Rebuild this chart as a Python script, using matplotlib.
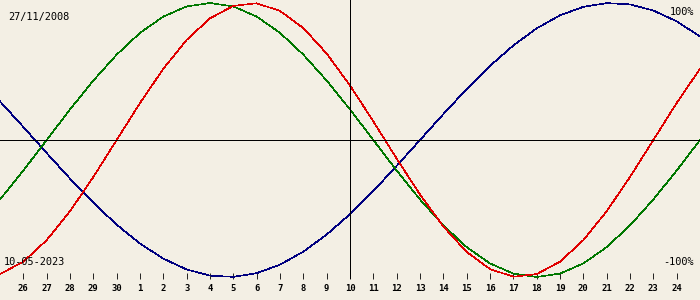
import matplotlib
matplotlib.use("Agg")
import matplotlib.pyplot as plt


# one point per day, 25 Apr .. 25 May 2023 (31 days), values in -1..1
physical = [-0.979, -0.888, -0.731, -0.520, -0.270, 0.0, 0.270, 0.520, 0.731, 0.888,
            0.979, 0.998, 0.942, 0.817, 0.631, 0.398, 0.136, -0.136, -0.398, -0.631,
            -0.817, -0.942, -0.998, -0.979, -0.888, -0.731, -0.520, -0.270, 0.0, 0.270,
            0.520]
emotional = [-0.434, -0.223, 0.0, 0.223, 0.434, 0.623, 0.782, 0.901, 0.975, 1.0,
             0.975, 0.901, 0.782, 0.623, 0.434, 0.223, 0.0, -0.223, -0.434, -0.623,
             -0.782, -0.901, -0.975, -1.0, -0.975, -0.901, -0.782, -0.623, -0.434, -0.223,
             0.0]
intellectual = [0.282, 0.095, -0.095, -0.282, -0.458, -0.618, -0.756, -0.866, -0.945, -0.990,
                -0.999, -0.972, -0.910, -0.815, -0.690, -0.541, -0.372, -0.189, 0.0, 0.189,
                0.372, 0.541, 0.690, 0.815, 0.910, 0.972, 0.999, 0.990, 0.945, 0.866,
                0.756]

day_labels = ["26", "27", "28", "29", "30", "1", "2", "3", "4", "5", "6", "7", "8", "9",
              "10", "11", "12", "13", "14", "15", "16", "17", "18", "19", "20", "21",
              "22", "23", "24"]
today_index = 15
birth_date = "27/11/2008"
today_date = "10-05-2023"

bg = "#f3efe4"

fig = plt.figure(figsize=(7, 3), dpi=100, facecolor=bg)
# axes run from the top edge down to the tick marks (279 px)
ax = fig.add_axes([0, 21 / 300, 1, 279 / 300])
ax.set_facecolor(bg)

days = list(range(len(physical)))
lw = 0.45
ax.plot(days, intellectual, color="#000080", lw=lw, antialiased=False)
ax.plot(days, emotional, color="#007800", lw=lw, antialiased=False)
ax.plot(days, physical, color="#e00000", lw=lw, antialiased=False)

ax.axhline(0, color="black", lw=0.6, antialiased=False)
ax.axvline(today_index, color="black", lw=0.6, antialiased=False)

ax.set_xlim(0, len(physical) - 1)
ax.set_ylim(-139 / 137, 140 / 137)

ax.set_xticks(range(1, len(day_labels) + 1))
ax.set_xticklabels(day_labels, family="DejaVu Sans Mono", fontsize=6.4, fontweight="bold")
ax.tick_params(axis="x", direction="in", length=4, width=0.6, pad=3.5, color="black")
ax.set_yticks([])
for s in ax.spines.values():
    s.set_visible(False)

txt = dict(family="DejaVu Sans Mono", fontsize=7.4, color="black")
ax.text(8 / 700, 1 - 17 / 279, birth_date, transform=ax.transAxes, va="center", ha="left", **txt)
ax.text(4 / 700, 1 - 262 / 279, today_date, transform=ax.transAxes, va="center", ha="left", **txt)
ax.text(694 / 700, 1 - 12 / 279, "100%", transform=ax.transAxes, va="center", ha="right", **txt)
ax.text(694 / 700, 1 - 262 / 279, "-100%", transform=ax.transAxes, va="center", ha="right", **txt)

fig.savefig("out.png", dpi=100, facecolor=bg)
